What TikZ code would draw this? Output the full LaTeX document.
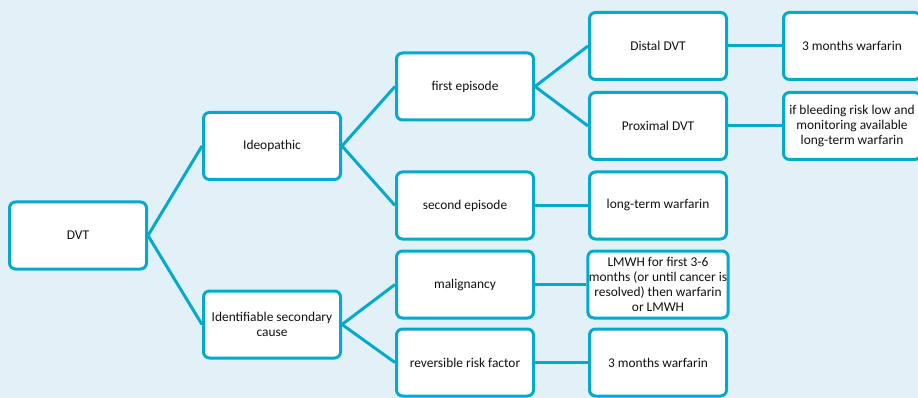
\documentclass[tikz,border=0pt]{standalone}
\usepackage{fontspec}
\setmainfont{Carlito}
\definecolor{tealc}{HTML}{05A9CC}
\definecolor{bgc}{HTML}{E2F1F8}
\definecolor{txtc}{HTML}{111111}
\begin{document}
\begin{tikzpicture}[x=1pt,y=-1pt,
  box/.style={draw=tealc, line width=3pt, rounded corners=6pt, fill=white,
    minimum width=137pt, minimum height=67pt, align=center, inner sep=1pt,
    text=txtc, font=\fontsize{13.4}{15.2}\selectfont},
  link/.style={draw=tealc, line width=3pt}]
\useasboundingbox (0,0) rectangle (918,398);
\clip (0,0) rectangle (918,398);
\fill[bgc] (0,0) rectangle (918,398);
\node[box] (dvt) at (78,235.5) {DVT};
\node[box] (ideo) at (272,146) {Ideopathic};
\node[box] (ident) at (272,324.5) {Identifiable secondary\\cause};
\node[box] (first) at (465,86.5) {first episode};
\node[box] (second) at (465,205.5) {second episode};
\node[box] (malig) at (465,284.5) {malignancy};
\node[box] (rev) at (465,362.5) {reversible risk factor};
\node[box] (distal) at (658,46) {Distal DVT};
\node[box] (prox) at (658,126) {Proximal DVT};
\node[box] (ltw) at (658,205.5) {long-term warfarin};
\node[box] (lmwh) at (658,284.5) {LMWH for first 3-6\\months (or until cancer is\\resolved) then warfarin\\or LMWH};
\node[box] (tmw) at (658,362.5) {3 months warfarin};
\node[box] (tmwtop) at (852,46) {3 months warfarin};
\node[box] (bleed) at (852,126) {if bleeding risk low and\\monitoring available\\long-term warfarin};
\draw[link] (dvt.east) -- (ideo.west);
\draw[link] (dvt.east) -- (ident.west);
\draw[link] (ideo.east) -- (first.west);
\draw[link] (ideo.east) -- (second.west);
\draw[link] (ident.east) -- (malig.west);
\draw[link] (ident.east) -- (rev.west);
\draw[link] (first.east) -- (distal.west);
\draw[link] (first.east) -- (prox.west);
\draw[link] (second.east) -- (ltw.west);
\draw[link] (malig.east) -- (lmwh.west);
\draw[link] (rev.east) -- (tmw.west);
\draw[link] (distal.east) -- (tmwtop.west);
\draw[link] (prox.east) -- (bleed.west);
\end{tikzpicture}
\end{document}
